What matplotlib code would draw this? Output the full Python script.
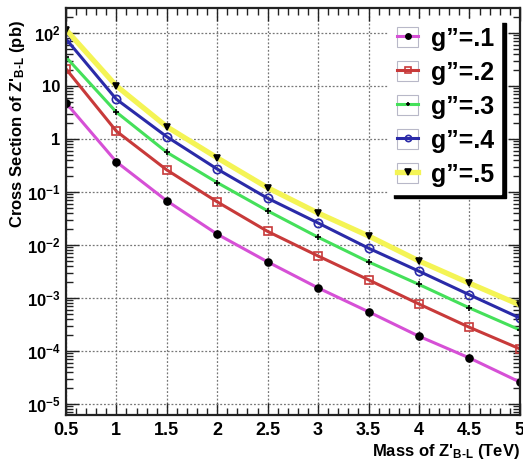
import matplotlib
matplotlib.use("Agg")
import matplotlib.pyplot as plt
from matplotlib.patches import Rectangle
from matplotlib.ticker import FixedLocator, MultipleLocator, LogLocator, NullFormatter, FixedFormatter

plt.rcParams['font.family'] = ['Liberation Sans', 'DejaVu Sans']
plt.rcParams['font.weight'] = 'bold'
plt.rcParams['mathtext.fontset'] = 'custom'
plt.rcParams['mathtext.rm'] = 'Liberation Sans:bold'
plt.rcParams['mathtext.bf'] = 'Liberation Sans:bold'
plt.rcParams['mathtext.default'] = 'bf'

mass = [0.5, 1.0, 1.5, 2.0, 2.5, 3.0, 3.5, 4.0, 4.5, 5.0]
xs_g1 = [4.8, 0.37, 0.068, 0.016, 0.0048, 0.00155, 0.00055, 0.00019, 7.4e-5, 2.6e-5]
xs_g2 = [21, 1.4, 0.26, 0.065, 0.018, 0.0062, 0.0022, 0.00077, 0.00028, 0.00011]
xs_g3 = [35, 3.2, 0.56, 0.15, 0.044, 0.014, 0.0048, 0.0018, 0.00065, 0.00025]
xs_g4 = [77, 5.6, 1.1, 0.27, 0.076, 0.026, 0.0087, 0.0032, 0.00115, 0.00042]
xs_g5 = [115, 10, 1.7, 0.44, 0.12, 0.04, 0.0148, 0.005, 0.0019, 0.00074]
labels = ['g\u201d=.1', 'g\u201d=.2', 'g\u201d=.3', 'g\u201d=.4', 'g\u201d=.5']

x_ticks = [0.5, 1, 1.5, 2, 2.5, 3, 3.5, 4, 4.5, 5]
x_ticklabels = ['0.5', '1', '1.5', '2', '2.5', '3', '3.5', '4', '4.5', '5']
y_ticks = [1e-5, 1e-4, 1e-3, 1e-2, 1e-1, 1, 10, 100]
y_ticklabels = [r'$10^{-5}$', r'$10^{-4}$', r'$10^{-3}$', r'$10^{-2}$', r'$10^{-1}$', '1', '10', r'$10^{2}$']

series = [xs_g1, xs_g2, xs_g3, xs_g4, xs_g5]
colors = ['#d650d6', '#c83a3a', '#45e05a', '#2a2aa8', '#f4f455']
markers = ['o', 's', '+', 'o', 'v']
mfcs = ['black', 'none', 'black', 'none', 'black']
mecs = ['black', '#c83a3a', 'black', '#2a2aa8', 'black']
lws = [2.2, 2.2, 2.2, 2.2, 3.8]
msz = [5, 6, 4, 6, 5]

fig = plt.figure(figsize=(5.23, 4.66), dpi=100)
ax = fig.add_axes([0.126, 0.109, 0.868, 0.874])

handles = []
for ys, c, m, fc, ec, lw, ms, lab in zip(series, colors, markers, mfcs, mecs, lws, msz, labels):
    ln, = ax.plot(mass, ys, color=c, lw=lw, marker=m, markerfacecolor=fc,
                  markeredgecolor=ec, markersize=ms, markeredgewidth=1.2, label=lab)
    box = Rectangle((0, 0), 1, 1, facecolor='none', edgecolor='#b8b8c8', linewidth=0.8)
    handles.append((box, ln))

ax.set_yscale('log')
ax.set_xlim(0.5, 5.0)
ax.set_ylim(10**-5.21, 10**2.47)

ax.xaxis.set_major_locator(FixedLocator(x_ticks))
ax.xaxis.set_major_formatter(FixedFormatter(x_ticklabels))
ax.xaxis.set_minor_locator(MultipleLocator(0.1))
ax.yaxis.set_major_locator(FixedLocator(y_ticks))
ax.yaxis.set_major_formatter(FixedFormatter(y_ticklabels))
ax.yaxis.set_minor_locator(LogLocator(base=10, subs=range(2, 10), numticks=20))
ax.yaxis.set_minor_formatter(NullFormatter())

ax.tick_params(which='both', direction='in', top=True, right=True, width=1.0, colors='#222222')
ax.tick_params(which='major', length=9, labelsize=13, pad=5)
ax.tick_params(axis='y', which='major', labelsize=12, pad=4)
ax.tick_params(which='minor', length=5)
for lab in ax.get_xticklabels() + ax.get_yticklabels():
    lab.set_fontweight('bold')
    lab.set_color('black')

for s in ax.spines.values():
    s.set_linewidth(1.6)
    s.set_color('#222222')

ax.grid(True, which='major', linestyle=(0, (1.5, 1.5)), color='#777777', linewidth=0.9)

ax.set_ylabel(r"Cross Section of Z'$_{\mathbf{B\text{-}L}}$ (pb)", fontsize=12, fontweight='bold')
ax.yaxis.set_label_coords(-0.085, 0.715)
ax.set_xlabel(r"Mass of Z'$_{\mathbf{B\text{-}L}}$ (TeV)", fontsize=12, fontweight='bold')
ax.xaxis.set_label_coords(1.0, -0.066)
ax.xaxis.label.set_horizontalalignment('right')

leg = ax.legend(handles, labels, loc='upper right', bbox_to_anchor=(0.987, 1.003), fontsize=18,
                frameon=True, fancybox=False, edgecolor='white', facecolor='white',
                framealpha=1.0, shadow={'color': 'black', 'alpha': 1.0, 'ox': 3, 'oy': -3},
                handlelength=0.85, handleheight=0.85, handletextpad=0.5, labelspacing=0.4,
                borderpad=0.3, markerscale=0.75)
for t in leg.get_texts():
    t.set_fontweight('bold')

fig.savefig('out.png', dpi=100)
